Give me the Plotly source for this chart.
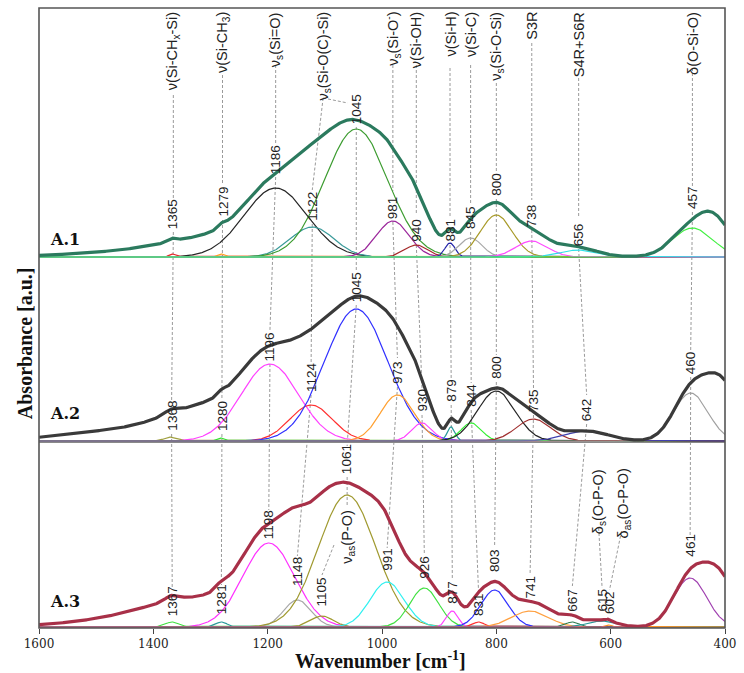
import numpy as np
import plotly.graph_objects as go

# ------------------------------------------------------------------ data
# Panel A.1 : fitted components (centre cm-1, height, gaussian sigma cm-1)
a1_center = [1365, 1279, 1186, 1122, 1045, 981, 940, 881, 845, 800, 738, 656, 457]
a1_height = [3, 3, 69, 30, 128, 36, 12, 14, 19, 42, 16, 7, 29]
a1_sigma = [7, 6, 55, 38, 55, 28, 20, 9, 20, 28, 28, 32, 35]
a1_colors = ["#e8262a", "#ffa020", "#262626", "#3a9a9a", "#3c9c30", "#9b279b", "#a52a2a",
             "#2424a8", "#a8a8a8", "#a89a28", "#ff4cff", "#30e0e8", "#40f040"]
# background contributions to the measured envelope (not drawn separately)
a1_bg_center = [1310, 1420, 935, 780, 415]
a1_bg_height = [14, 6, 24, 10, 28]
a1_bg_sigma = [70, 110, 28, 80, 28]

# Panel A.2
a2_center = [1368, 1280, 1196, 1124, 1045, 973, 930, 879, 844, 800, 735, 642, 460]
a2_height = [4, 3, 77, 36, 132, 46, 18, 14, 18, 50, 22, 10, 48]
a2_sigma = [12, 6, 50, 37, 55, 30, 18, 7, 18, 33, 30, 38, 30]
a2_colors = ["#a0a040", "#30e030", "#ff40ff", "#ff3030", "#3030ff", "#ffa030", "#ff40ff",
             "#2a9a9a", "#30f030", "#262626", "#a03030", "#4040b0", "#a0a0a0"]
a2_bg_center = [1310, 1480, 1020, 945, 405]
a2_bg_height = [32, 9, 8, 16, 55]
a2_bg_sigma = [75, 90, 30, 28, 30]

# Panel A.3
a3_center = [1367, 1281, 1198, 1148, 1105, 1061, 991, 926, 877, 831, 803, 741, 667, 615, 602, 461]
a3_height = [5, 5, 84, 27, 11, 132, 45, 39, 16, 5, 37, 16, 5, 6, 2, 49]
a3_sigma = [12, 10, 45, 24, 20, 50, 30, 25, 10, 10, 24, 32, 12, 25, 5, 29]
a3_colors = ["#40e040", "#2a9a9a", "#ff30ff", "#a8a8a8", "#a09a30", "#a09a30", "#30f0f0",
             "#40e040", "#ff40ff", "#ff3030", "#3030ff", "#ffa040", "#2e7d4f", "#2a9a9a",
             "#ff9020", "#a040b0"]
a3_bg_center = [1320, 1480, 1120, 980, 860, 720, 410]
a3_bg_height = [28, 5, 18, 17, 14, 9, 48]
a3_bg_sigma = [90, 90, 40, 35, 35, 50, 28]

panel_names = ["A.1", "A.2", "A.3"]
envelope_colors = ["#2b7a5e", "#3a3a3a", "#a83048"]

# band assignments (top of A.1 and inside A.3)
top_band_text = ["ν(Si-CH<sub>x</sub>-Si)", "ν(Si-CH<sub>3</sub>)", "ν<sub>s</sub>(Si=O)",
                 "ν<sub>s</sub>(Si-O(C)-Si)", "ν<sub>s</sub>(Si-O<sup>-</sup>)", "ν(Si-OH)",
                 "ν(Si-H)", "ν(Si-C)", "ν<sub>s</sub>(Si-O-Si)", "S3R", "S4R+S6R", "δ(O-Si-O)"]
top_band_pos = [1365, 1279, 1186, 1103, 981, 940, 881, 845, 800, 738, 656, 457]
a3_band_text = ["ν<sub>as</sub>(P-O)", "δ<sub>s</sub>(O-P-O)", "δ<sub>as</sub>(O-P-O)"]
a3_band_pos = [1061, 621, 576]

x_ticks = [1600, 1400, 1200, 1000, 800, 600, 400]

# ------------------------------------------------------------------ layout geometry
W, H = 744, 673
ML, MR, MT, MB = 39, 9, 8, 45
PH = H - MT - MB           # plot height in px
PB = H - MB                # bottom pixel row of plot


def pp(py):
    """pixel row -> paper y"""
    return (PB - py) / PH


panel_px = [(MT, 258), (258, 442), (442, PB)]   # (top, baseline) pixel rows
yaxes = ["y3", "y2", "y"]

# label positions (top px, bottom px) per panel, keyed by band centre
label_px = [
    {1365: (200, 230), 1279: (185, 218), 1186: (145, 175), 1122: (192, 222), 1045: (95, 125),
     981: (193, 220), 940: (215, 243), 881: (218, 243), 845: (207, 230), 800: (173, 197),
     738: (202, 228), 656: (220, 247), 457: (188, 210)},
    {1368: (402, 432), 1280: (402, 432), 1196: (332, 362), 1124: (366, 393), 1045: (273, 303),
     973: (360, 385), 930: (390, 413), 879: (380, 403), 844: (385, 408), 800: (357, 380),
     735: (390, 413), 642: (397, 422), 460: (352, 375)},
    {1367: (590, 617), 1281: (587, 615), 1198: (512, 540), 1148: (558, 587), 1105: (577, 607),
     1061: (448, 475), 991: (550, 572), 926: (555, 580), 877: (582, 605), 831: (595, 617),
     803: (548, 573), 741: (577, 600), 667: (588, 613), 615: (590, 613), 602: (592, 615),
     461: (537, 558)},
]
a3_band_top_px = [510, 468, 467]

# guide lines: start point (wavenumber, px) then chain of (panel, band) labels
guides = [
    ((1365, 95), [(0, 1365), (1, 1368), (2, 1367)]),
    ((1279, 75), [(0, 1279), (1, 1280), (2, 1281)]),
    ((1186, 65), [(0, 1186), (1, 1196), (2, 1198)]),
    ((1103, 98), [(0, 1122), (1, 1124), (2, 1148)]),
    (None, [(0, 1045), (1, 1045), (2, 1061)]),
    ((981, 65), [(0, 981), (1, 973), (2, 991)]),
    ((940, 65), [(0, 940), (1, 930), (2, 926)]),
    ((881, 68), [(0, 881), (1, 879), (2, 877)]),
    ((845, 65), [(0, 845), (1, 844), (2, 831)]),
    ((800, 83), [(0, 800), (1, 800), (2, 803)]),
    ((738, 43), [(0, 738), (1, 735), (2, 741)]),
    ((656, 78), [(0, 656), (1, 642), (2, 667)]),
    ((621, 528), [(2, 615)]),
    ((581, 531), [(2, 602)]),
    ((457, 68), [(0, 457), (1, 460), (2, 461)]),
    ((1084, 545), [(2, 1105)]),
]
extra_leaders = [((1103, 98), (1060, 103)), ((1061, 477), (1061, 507))]

# ------------------------------------------------------------------ build figure
wn = np.linspace(400, 1600, 1201)


def gauss(c, h, s):
    return h * np.exp(-(wn - c) ** 2 / (2.0 * s ** 2))


panels = [
    (a1_center, a1_height, a1_sigma, a1_colors, a1_bg_center, a1_bg_height, a1_bg_sigma),
    (a2_center, a2_height, a2_sigma, a2_colors, a2_bg_center, a2_bg_height, a2_bg_sigma),
    (a3_center, a3_height, a3_sigma, a3_colors, a3_bg_center, a3_bg_height, a3_bg_sigma),
]

fig = go.Figure()
layout_axes = {}
for i, (cen, hei, sig, cols, bgc, bgh, bgs) in enumerate(panels):
    top, base = panel_px[i]
    yname = yaxes[i]
    total = np.zeros_like(wn)
    for c, h, s, col in zip(cen, hei, sig, cols):
        g = gauss(c, h, s)
        total += g
        fig.add_trace(go.Scatter(x=wn, y=g, mode="lines", xaxis="x", yaxis=yname,
                                 line=dict(color=col, width=1.2), hoverinfo="skip",
                                 showlegend=False))
    for c, h, s in zip(bgc, bgh, bgs):
        total += gauss(c, h, s)
    fig.add_trace(go.Scatter(x=wn, y=total, mode="lines", xaxis="x", yaxis=yname,
                             line=dict(color=envelope_colors[i], width=3.2), hoverinfo="skip",
                             showlegend=False))
    key = "yaxis" if yname == "y" else "yaxis" + yname[1:]
    layout_axes[key] = dict(domain=[pp(base), pp(top)], range=[-1, base - top - 1],
                            visible=False, fixedrange=True, anchor="x")

shapes = []
dash_line = dict(color="#9a9a9a", width=1, dash="3px,2px")


def seg(x0, y0, x1, y1):
    shapes.append(dict(type="line", xref="x", yref="paper", x0=x0, x1=x1,
                       y0=pp(y0), y1=pp(y1), line=dash_line, layer="below"))


for start, chain in guides:
    prev = start
    for pi, band in chain:
        t, b = label_px[pi][band]
        if prev is not None:
            seg(prev[0], prev[1], band, t - 2)
        prev = (band, b + 2)
for (x0, y0), (x1, y1) in extra_leaders:
    seg(x0, y0, x1, y1)

# separator between A.2 and A.3
shapes.append(dict(type="line", xref="paper", yref="paper", x0=0, x1=1, y0=pp(442), y1=pp(442),
                   line=dict(color="#8a8a8a", width=2), layer="below"))
# frame
shapes.append(dict(type="rect", xref="paper", yref="paper", x0=0, x1=1, y0=0, y1=1,
                   line=dict(color="#555555", width=1.6), layer="above"))

annotations = []
lab_font = dict(family="Liberation Sans, Arial, sans-serif", size=13.5, color="#222222")
band_font = dict(family="Liberation Sans, Arial, sans-serif", size=14.5, color="#222222")
for pi, cen in enumerate([a1_center, a2_center, a3_center]):
    for c in cen:
        t, b = label_px[pi][c]
        annotations.append(dict(x=c, y=pp(b), xref="x", yref="paper", text=str(c),
                                textangle=-90, showarrow=False, xanchor="center",
                                yanchor="bottom", font=lab_font, borderpad=0))
for txt, pos in zip(top_band_text, top_band_pos):
    annotations.append(dict(x=pos, y=pp(11), xref="x", yref="paper", text=txt, textangle=-90,
                            showarrow=False, xanchor="center", yanchor="top", font=band_font,
                            borderpad=0))
for txt, pos, tp in zip(a3_band_text, a3_band_pos, a3_band_top_px):
    annotations.append(dict(x=pos, y=pp(tp), xref="x", yref="paper", text=txt, textangle=-90,
                            showarrow=False, xanchor="center", yanchor="top", font=band_font,
                            borderpad=0))

serif_bold = dict(family="DejaVu Serif, serif", size=16, color="#111111")
title_font = dict(family="Liberation Serif, Times New Roman, serif", size=20, color="#111111")
for name, cy in zip(panel_names, [239, 413, 601]):
    annotations.append(dict(x=(48 - ML) / (W - ML - MR), y=pp(cy), xref="paper", yref="paper",
                            text="<b>%s</b>" % name, showarrow=False, xanchor="left",
                            yanchor="middle", font=serif_bold))
annotations.append(dict(x=(385 - ML) / (W - ML - MR), y=pp(673), xref="paper", yref="paper",
                        text="<b>Wavenumber [cm<sup>-1</sup>]</b>", showarrow=False,
                        xanchor="center", yanchor="bottom", font=title_font, borderpad=0))
annotations.append(dict(x=(25 - ML) / (W - ML - MR), y=pp(343), xref="paper", yref="paper",
                        text="<b>Absorbance [a.u.]</b>", showarrow=False, textangle=-90,
                        xanchor="center", yanchor="middle", font=title_font))

fig.update_layout(
    width=W, height=H,
    margin=dict(l=ML, r=MR, t=MT, b=MB),
    paper_bgcolor="white", plot_bgcolor="white",
    xaxis=dict(range=[1600, 400], tickvals=x_ticks, ticktext=[str(v) for v in x_ticks],
               ticks="outside", ticklen=5, tickwidth=1, tickcolor="#444444",
               showgrid=False, zeroline=False, showline=False, fixedrange=True,
               ticklabeloverflow="allow",
               tickfont=dict(family="DejaVu Serif, serif", size=12, color="#222222"),
               anchor="y"),
    shapes=shapes, annotations=annotations, showlegend=False,
    **layout_axes,
)

fig.write_html("out.html", config={"displayModeBar": False},
               post_script="document.body.style.margin='0px';")
